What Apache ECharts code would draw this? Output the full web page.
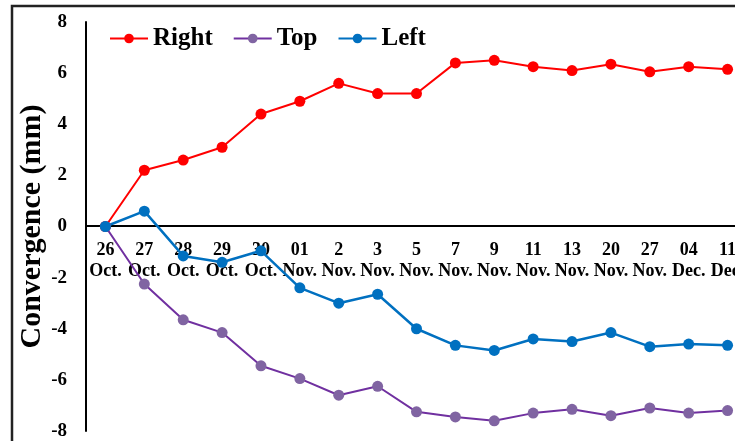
<!DOCTYPE html>
<html><head><meta charset="utf-8">
<script src="https://cdn.jsdelivr.net/npm/echarts@6/dist/echarts.min.js"></script>
<style>html,body{margin:0;padding:0;background:#fff}#c{width:735px;height:441px}</style>
</head><body><div id="c"></div>
<script>
const categories = ['26\nOct.','27\nOct.','28\nOct.','29\nOct.','30\nOct.','01\nNov.','2\nNov.','3\nNov.','5\nNov.','7\nNov.','9\nNov.','11\nNov.','13\nNov.','20\nNov.','27\nNov.','04\nDec.','11\nDec.'];
const rightVals = [0, 2.2, 2.6, 3.1, 4.4, 4.9, 5.6, 5.2, 5.2, 6.4, 6.5, 6.25, 6.1, 6.35, 6.05, 6.25, 6.15];
const topVals = [0, -2.25, -3.65, -4.15, -5.45, -5.95, -6.6, -6.25, -7.25, -7.45, -7.6, -7.3, -7.15, -7.4, -7.1, -7.3, -7.2];
const leftVals = [0, 0.6, -1.15, -1.4, -0.95, -2.4, -3.0, -2.65, -4.0, -4.65, -4.85, -4.4, -4.5, -4.15, -4.7, -4.6, -4.65];
const yTicks = [-8, -6, -4, -2, 0, 2, 4, 6, 8];

const font = 'Liberation Serif';
const chart = echarts.init(document.getElementById('c'), null, {renderer: 'canvas'});
chart.setOption({
  animation: false,
  graphic: [{type: 'rect', shape: {x: 12, y: 6, width: 900, height: 600}, style: {fill: 'none', stroke: '#222', lineWidth: 2.5}, z: 100}],
  grid: {left: 86, right: -12, top: 22, bottom: 10, containLabel: false, outerBoundsMode: 'none'},
  legend: {
    left: 104, top: 21, itemWidth: 38, itemHeight: 12, itemGap: 20,
    textStyle: {fontFamily: font, fontWeight: 'bold', fontSize: 25, color: '#000'},
    data: ['Right', 'Top', 'Left']
  },
  xAxis: {
    type: 'category', data: categories, boundaryGap: true,
    offset: -205,
    axisLine: {onZero: false, lineStyle: {color: '#000', width: 2}},
    axisTick: {show: false},
    axisLabel: {interval: 0, margin: 14, fontFamily: font, fontWeight: 'bold', fontSize: 18, color: '#000', lineHeight: 21}
  },
  yAxis: {
    type: 'value', min: -8, max: 8, interval: 2,
    name: 'Convergence (mm)', nameLocation: 'middle', nameGap: 39, nameRotate: 90, nameMoveOverlap: false,
    nameTextStyle: {fontFamily: font, fontWeight: 'bold', fontSize: 30, color: '#000'},
    axisLine: {show: true, lineStyle: {color: '#000', width: 2}},
    axisTick: {show: false},
    splitLine: {show: false},
    axisLabel: {margin: 19, fontFamily: font, fontWeight: 'bold', fontSize: 19, color: '#000',
      formatter: v => yTicks.includes(v) ? String(v) : ''}
  },
  series: [
    {name: 'Right', type: 'line', data: rightVals, symbol: 'circle', symbolSize: 11,
     lineStyle: {color: '#FF0000', width: 2}, itemStyle: {color: '#FF0000'}},
    {name: 'Top', type: 'line', data: topVals, symbol: 'circle', symbolSize: 11,
     lineStyle: {color: '#7030A0', width: 2}, itemStyle: {color: '#8064A2'}},
    {name: 'Left', type: 'line', data: leftVals, symbol: 'circle', symbolSize: 11,
     lineStyle: {color: '#0070C0', width: 2.5}, itemStyle: {color: '#0070C0'}}
  ]
});
</script></body></html>
